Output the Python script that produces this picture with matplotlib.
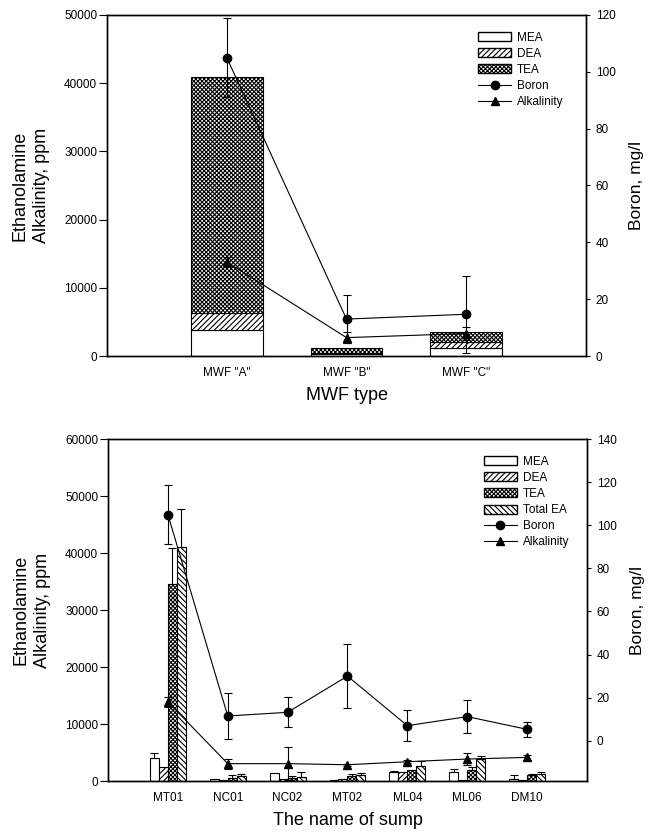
import matplotlib
matplotlib.use("Agg")
import matplotlib.pyplot as plt
import numpy as np
from matplotlib.patches import Patch
from matplotlib.lines import Line2D

plt.rcParams['font.family'] = ['Liberation Sans', 'DejaVu Sans']
plt.rcParams['hatch.linewidth'] = 0.8

# ---------------- data: top panel ----------------
mwf_types = ['MWF "A"', 'MWF "B"', 'MWF "C"']
mea_top = [3800, 350, 1250]
dea_top = [2450, 150, 850]
tea_top = [34600, 650, 1400]
boron_top = [105, 13, 14.7]
boron_top_err = [14, 8.5, 13.5]
alk_top = [13800, 2700, 3300]
alk_top_err = [700, 800, 1000]

# ---------------- data: bottom panel ----------------
sumps = ['MT01', 'NC01', 'NC02', 'MT02', 'ML04', 'ML06', 'DM10']
mea = [4000, 350, 1400, 100, 1650, 1550, 300]
mea_err = [850, 0, 0, 0, 150, 550, 700]
dea = [2500, 200, 300, 300, 1500, 200, 100]
dea_err = [0, 0, 0, 0, 0, 0, 0]
tea = [34500, 600, 600, 800, 1900, 1900, 1100]
tea_err = [6400, 400, 300, 400, 0, 500, 200]
total_ea = [41000, 900, 700, 1000, 2600, 3800, 1300]
total_ea_err = [6800, 400, 900, 350, 1000, 550, 200]
boron = [105, 11.5, 13.2, 30, 7, 11.2, 5.3]
boron_err = [13.7, 10.5, 7, 15, 7.2, 7.6, 3.6]
alk = [13900, 3050, 3050, 2860, 3390, 3860, 4150]
alk_err = [900, 900, 2900, 200, 300, 1000, 500]

TICK_FS = 8.5
LABEL_FS = 13
RLABEL_FS = 12.5
LEG_FS = 8.5
TEA_HATCH = 'xxxxxxxx'

fig = plt.figure(figsize=(6.49, 8.34), dpi=100)

def style_axes(ax, ax2):
    for a in (ax, ax2):
        for s in a.spines.values():
            s.set_linewidth(1.0)
            s.set_color('black')
    ax.tick_params(axis='y', direction='out', length=6, width=0.8, labelsize=TICK_FS, pad=1)
    ax.tick_params(axis='x', length=0, labelsize=TICK_FS, pad=8)
    ax2.tick_params(axis='y', direction='out', length=3, width=0.8, labelsize=TICK_FS, pad=4)

# ================= TOP PANEL =================
ax1 = fig.add_axes([0.1649, 0.5731, 0.738, 0.409])
x1 = np.arange(len(mwf_types))
w1 = 0.6
ax1.bar(x1, mea_top, w1, color='white', edgecolor='black', linewidth=0.8, zorder=2)
ax1.bar(x1, dea_top, w1, bottom=mea_top, color='white', edgecolor='black',
        hatch='//////', linewidth=0.8, zorder=2)
b2 = np.array(mea_top) + np.array(dea_top)
ax1.bar(x1, tea_top, w1, bottom=b2, color='white', edgecolor='black',
        hatch=TEA_HATCH, linewidth=0.8, zorder=2)
ax1.errorbar(x1, alk_top, yerr=alk_top_err, color='black', marker='^', markersize=6,
             linewidth=0.8, elinewidth=0.8, capsize=3, capthick=0.8, zorder=4)
ax1.set_xlim(-1, 3)
ax1.set_ylim(0, 50000)
ax1.set_yticks(np.arange(0, 50001, 10000))
ax1.set_xticks(x1)
ax1.set_xticklabels(mwf_types)
ax1.set_xlabel('MWF type', fontsize=LABEL_FS, labelpad=6)
ax1.set_ylabel('Ethanolamine\nAlkalinity, ppm', fontsize=LABEL_FS, labelpad=10, linespacing=1.35)

ax1b = ax1.twinx()
ax1b.errorbar(x1, boron_top, yerr=boron_top_err, color='black', marker='o', markersize=6,
              linewidth=0.8, elinewidth=0.8, capsize=3, capthick=0.8, zorder=4)
ax1b.set_ylim(0, 120)
ax1b.set_yticks(np.arange(0, 121, 20))
ax1b.set_ylabel('Boron, mg/l', fontsize=RLABEL_FS, labelpad=10)
style_axes(ax1, ax1b)

h_top = [Patch(facecolor='white', edgecolor='black', label='MEA'),
         Patch(facecolor='white', edgecolor='black', hatch='//////', label='DEA'),
         Patch(facecolor='white', edgecolor='black', hatch=TEA_HATCH, label='TEA'),
         Line2D([], [], color='black', marker='o', markersize=6, linewidth=0.8, label='Boron'),
         Line2D([], [], color='black', marker='^', markersize=6, linewidth=0.8, label='Alkalinity')]
ax1b.legend(handles=h_top, loc='upper left', bbox_to_anchor=(0.765, 0.965), frameon=False,
            fontsize=LEG_FS, handlelength=2.8, handleheight=0.8, labelspacing=0.35,
            handletextpad=0.5, borderaxespad=0)

# ================= BOTTOM PANEL =================
ax2 = fig.add_axes([0.1664, 0.0635, 0.738, 0.410])
x2 = np.arange(len(sumps))
w2 = 0.15
series = [(mea, mea_err, None), (dea, dea_err, '//////'),
          (tea, tea_err, TEA_HATCH), (total_ea, total_ea_err, '\\\\\\\\\\\\')]
for i, (vals, errs, hatch) in enumerate(series):
    pos = x2 + (i - 1.5) * w2
    ax2.bar(pos, vals, w2, color='white', edgecolor='black', hatch=hatch,
            linewidth=0.8, zorder=2)
    errs = np.array(errs, dtype=float)
    m = errs > 0
    ax2.errorbar(pos[m], np.array(vals)[m], yerr=[np.zeros(m.sum()), errs[m]],
                 fmt='none', ecolor='black', elinewidth=0.8, capsize=3, capthick=0.8, zorder=3)
ax2.errorbar(x2, alk, yerr=alk_err, color='black', marker='^', markersize=6,
             linewidth=0.8, elinewidth=0.8, capsize=3, capthick=0.8, zorder=4)
ax2.set_xlim(-1, 7)
ax2.set_ylim(0, 60000)
ax2.set_yticks(np.arange(0, 60001, 10000))
ax2.set_xticks(x2)
ax2.set_xticklabels(sumps)
ax2.set_xlabel('The name of sump', fontsize=LABEL_FS, labelpad=6)
ax2.set_ylabel('Ethanolamine\nAlkalinity, ppm', fontsize=LABEL_FS, labelpad=10, linespacing=1.35)

ax2b = ax2.twinx()
ax2b.errorbar(x2, boron, yerr=boron_err, color='black', marker='o', markersize=6,
              linewidth=0.8, elinewidth=0.8, capsize=3, capthick=0.8, zorder=4)
ax2b.set_ylim(-18.7, 140)
ax2b.set_yticks(np.arange(0, 141, 20))
ax2b.set_ylabel('Boron, mg/l', fontsize=RLABEL_FS, labelpad=10)
style_axes(ax2, ax2b)

h_bot = [Patch(facecolor='white', edgecolor='black', label='MEA'),
         Patch(facecolor='white', edgecolor='black', hatch='//////', label='DEA'),
         Patch(facecolor='white', edgecolor='black', hatch=TEA_HATCH, label='TEA'),
         Patch(facecolor='white', edgecolor='black', hatch='\\\\\\\\\\\\', label='Total EA'),
         Line2D([], [], color='black', marker='o', markersize=6, linewidth=0.8, label='Boron'),
         Line2D([], [], color='black', marker='^', markersize=6, linewidth=0.8, label='Alkalinity')]
ax2b.legend(handles=h_bot, loc='upper left', bbox_to_anchor=(0.775, 0.965), frameon=False,
            fontsize=LEG_FS, handlelength=2.8, handleheight=0.8, labelspacing=0.35,
            handletextpad=0.5, borderaxespad=0)

fig.savefig('out.png', dpi=100)
